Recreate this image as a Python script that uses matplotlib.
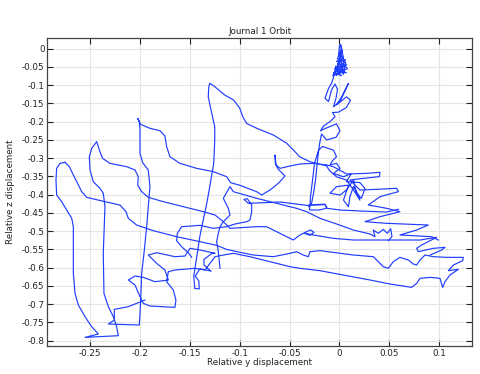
import matplotlib
matplotlib.use("Agg")
import matplotlib.pyplot as plt

# ---- orbit data (relative y, relative z) ----
# dense scribble at the start (top cluster)
start_y = [0.000, -0.001, 0.003, 0.001, 0.004, -0.003, 0.006, 0.002, -0.005, 0.007, 0.001, -0.002, 0.005, -0.006,
           0.003, 0.008, -0.001, -0.004, 0.004, 0.006, -0.002, 0.002, 0.001, -0.005, 0.007, 0.000, -0.003, 0.003,
           -0.001, 0.005, -0.006, 0.002, -0.004, 0.001, 0.004, -0.002, -0.007, -0.005]
start_z = [0.008, -0.020, -0.010, 0.012, -0.025, -0.035, -0.030, -0.050, -0.055, -0.045, -0.015, -0.045, -0.060,
           -0.070, -0.040, -0.055, -0.065, -0.048, -0.070, -0.038, -0.028, 0.002, -0.035, -0.062, -0.066, -0.058,
           -0.073, -0.052, -0.040, -0.048, -0.066, -0.074, -0.058, -0.028, -0.062, -0.070, -0.074, -0.070]

# stem + middle cluster
core_y = [-0.005, -0.008, -0.011, -0.0145, -0.011, -0.008, -0.0045, -0.002, -0.0035, -0.006, 0.0005, 0.009, 0.002,
          -0.003, 0.007, 0.011, 0.007, -0.001, -0.007, -0.0045, -0.0095, -0.016, -0.019, -0.0145, -0.003, 0.0005,
          -0.0035, -0.013, -0.018, -0.020, -0.022, -0.024, -0.026, -0.028, -0.031, -0.0295, -0.0145, -0.013, -0.020,
          -0.030, -0.029, -0.027, -0.025, -0.021, -0.017, -0.006, -0.003, -0.007, -0.0095,
          -0.003, 0.0005, -0.006, 0.004, 0.012, 0.007, 0.0205, 0.0255, 0.022, 0.017, 0.014, 0.007, 0.0005, -0.0095,
          -0.003, 0.009, 0.004, 0.009, 0.0105, 0.014, 0.019, 0.0205, 0.014, 0.007, -0.003, -0.010, -0.013]
core_z = [-0.070, -0.095, -0.109, -0.136, -0.145, -0.113, -0.097, -0.111, -0.136, -0.159, -0.145, -0.095, -0.133,
          -0.154, -0.132, -0.141, -0.161, -0.174, -0.175, -0.186, -0.200, -0.212, -0.225, -0.219, -0.206, -0.225,
          -0.243, -0.250, -0.234, -0.261, -0.305, -0.360, -0.396, -0.424, -0.433, -0.428, -0.426, -0.437, -0.442,
          -0.442, -0.405, -0.360, -0.314, -0.278, -0.268, -0.278, -0.296, -0.307, -0.319,
          -0.314, -0.328, -0.342, -0.351, -0.342, -0.364, -0.367, -0.383, -0.410, -0.396, -0.360, -0.387, -0.401,
          -0.396, -0.378, -0.374, -0.415, -0.433, -0.405, -0.378, -0.401, -0.415, -0.387, -0.360, -0.351, -0.334,
          -0.321]

# sweep to the peak near y=-0.13 and down
sweep1_y = [-0.013, -0.016, -0.0295, -0.040, -0.046, -0.053, -0.066, -0.083, -0.093, -0.097, -0.100, -0.106, -0.115,
            -0.121, -0.126, -0.130, -0.131, -0.1315, -0.128, -0.125, -0.125, -0.126, -0.130, -0.133, -0.1365, -0.140,
            -0.1425, -0.1445, -0.146, -0.145, -0.1405, -0.141, -0.1445, -0.140, -0.129]
sweep1_z = [-0.321, -0.319, -0.310, -0.296, -0.278, -0.259, -0.237, -0.218, -0.205, -0.186, -0.163, -0.141, -0.127,
            -0.113, -0.102, -0.095, -0.106, -0.132, -0.177, -0.214, -0.250, -0.314, -0.378, -0.424, -0.469, -0.515,
            -0.561, -0.597, -0.623, -0.657, -0.658, -0.636, -0.623, -0.603, -0.609]

# lower lattice, bottom-right excursion and return to the leftmost peak
sweep2_y = [-0.129, -0.1358, -0.1358, -0.1277, -0.1247, -0.1398, -0.1498, -0.1548, -0.1649, -0.1832, -0.1916, -0.1832,
            -0.1749, -0.1715, -0.1765, -0.1849, -0.1966, -0.2049, -0.2116, -0.2049, -0.1999, -0.1966, -0.1899, -0.1649,
            -0.1639, -0.1665, -0.1732, -0.1715, -0.1649, -0.1448, -0.1348, -0.1247, -0.1164, -0.1064, -0.0897, -0.0696,
            -0.0496, -0.0396, -0.0195, 0.0038, 0.0306, 0.0506, 0.0723, 0.0773, 0.0807, 0.0907, 0.1007, 0.1034, 0.1057,
            0.1107, 0.1191, 0.1091, 0.1141, 0.1234, 0.1241, 0.1074, 0.0940, 0.0857, 0.0807, 0.0773, 0.0740, 0.0690,
            0.0606, 0.0539, 0.0489, 0.0439, 0.0339, 0.0139, -0.0195, -0.0296, -0.0312, -0.0363, -0.0429, -0.0496,
            -0.0663, -0.0864, -0.0997, -0.1131, -0.1231, -0.1398, -0.1632, -0.1866, -0.2033, -0.2116, -0.2139, -0.2200,
            -0.2350, -0.2533, -0.2583, -0.2633, -0.2667, -0.2707, -0.2751]
sweep2_z = [-0.609, -0.5927, -0.5772, -0.5607, -0.5607, -0.5516, -0.5470, -0.5680, -0.5699, -0.5589, -0.5653, -0.5881,
            -0.6064, -0.6338, -0.6356, -0.6384, -0.6265, -0.6228, -0.6338, -0.6475, -0.6795, -0.6977, -0.7050, -0.7087,
            -0.6886, -0.6612, -0.6384, -0.6110, -0.6064, -0.6018, -0.6064, -0.5699, -0.5653, -0.5607, -0.5699, -0.5836,
            -0.5973, -0.6018, -0.6082, -0.6201, -0.6338, -0.6447, -0.6539, -0.6429, -0.6292, -0.6265, -0.6292, -0.6539,
            -0.6384, -0.6201, -0.6046, -0.6082, -0.5927, -0.5808, -0.5717, -0.5717, -0.5699, -0.5653, -0.5790, -0.5927,
            -0.5900, -0.5790, -0.5717, -0.5836, -0.6018, -0.5973, -0.5699, -0.5653, -0.5534, -0.5562, -0.5699, -0.5653,
            -0.5562, -0.5607, -0.5699, -0.5653, -0.5580, -0.5498, -0.5388, -0.5288, -0.5151, -0.4986, -0.4831, -0.4648,
            -0.4466, -0.4283, -0.4192, -0.4073, -0.3918, -0.3644, -0.3461, -0.3233, -0.3114]

# leftmost peak down, bottom, and up to the third peak, then right
sweep3_y = [-0.2751, -0.2800, -0.2834, -0.2841, -0.2834, -0.2784, -0.2734, -0.2683, -0.2667, -0.2667, -0.2650, -0.2617,
            -0.2550, -0.2483, -0.2417, -0.2550, -0.2216, -0.2233, -0.2266, -0.2316, -0.2360, -0.2367, -0.2350, -0.2367,
            -0.2400, -0.2467, -0.2500, -0.2507, -0.2483, -0.2433, -0.2400, -0.2374, -0.2300, -0.2133, -0.2049, -0.2016,
            -0.2022, -0.1982, -0.1916, -0.1765, -0.1565, -0.1364, -0.1247, -0.1164, -0.1097, -0.0830, -0.0730, -0.0630,
            -0.0529, -0.0463, -0.0396, -0.0329, -0.0289, -0.0256, -0.0296, -0.0346, -0.0262, -0.0062, 0.0139, 0.0489,
            0.0807, 0.0974, 0.0823, 0.0773, 0.0790, 0.0940, 0.1057, 0.1024, 0.0907]
sweep3_z = [-0.3114, -0.3142, -0.3279, -0.3598, -0.4009, -0.4192, -0.4420, -0.4648, -0.4877, -0.6155, -0.6703, -0.7023,
            -0.7342, -0.7616, -0.7817, -0.7909, -0.7863, -0.7616, -0.7342, -0.7068, -0.6703, -0.5607, -0.4329, -0.3963,
            -0.3826, -0.3644, -0.3324, -0.2959, -0.2731, -0.2548, -0.2822, -0.3005, -0.3142, -0.3233, -0.3324, -0.3507,
            -0.3735, -0.3918, -0.4073, -0.4192, -0.4329, -0.4466, -0.4557, -0.4740, -0.4922, -0.4877, -0.4877, -0.5014,
            -0.5151, -0.5242, -0.5105, -0.5014, -0.4968, -0.5032, -0.5114, -0.5059, -0.5105, -0.5196, -0.5242, -0.5242,
            -0.5242, -0.5169, -0.5379, -0.5470, -0.5562, -0.5470, -0.5443, -0.5516, -0.5653]

# right zigzag back to the middle cluster
sweep4_y = [0.0990, 0.0923, 0.0606, 0.0773, 0.0890, 0.0473, 0.0256, 0.0406, 0.0606, 0.0473, 0.0289, 0.0406, 0.0590,
            0.0573, 0.0372, 0.0205, 0.0105, 0.0239, 0.0399, 0.0406, 0.0272, 0.0072, -0.0062, -0.0129]
sweep4_z = [-0.5242, -0.5151, -0.5105, -0.4968, -0.4831, -0.4785, -0.4740, -0.4603, -0.4466, -0.4374, -0.4283, -0.4055,
            -0.3918, -0.3826, -0.3854, -0.3872, -0.3598, -0.3553, -0.3507, -0.3388, -0.3416, -0.3434, -0.3233, -0.3187]

# hook, second peak and its descent
sweep5_y = [-0.0129, -0.0262, -0.0396, -0.0496, -0.0596, -0.0636, -0.0646, -0.0643, -0.0613, -0.0546, -0.0613, -0.0696,
            -0.0780, -0.0830, -0.0997, -0.1091, -0.1131, -0.1264, -0.1431, -0.1599, -0.1699, -0.1732, -0.1749, -0.1799,
            -0.1899, -0.1992, -0.2022, -0.2006, -0.1999, -0.1999, -0.1972, -0.1916, -0.1899, -0.1916, -0.1932, -0.1959,
            -0.1982, -0.1992, -0.1999, -0.2006, -0.2316, -0.2256, -0.2256, -0.2116, -0.1949]
sweep5_z = [-0.3187, -0.3142, -0.3160, -0.3215, -0.3279, -0.3187, -0.2913, -0.3142, -0.3306, -0.3489, -0.3689, -0.3872,
            -0.4009, -0.3918, -0.3744, -0.3671, -0.3507, -0.3370, -0.3279, -0.3142, -0.2959, -0.2685, -0.2393, -0.2247,
            -0.2183, -0.2073, -0.1909, -0.2000, -0.2228, -0.2868, -0.3123, -0.3324, -0.3781, -0.4329, -0.4877, -0.5607,
            -0.6155, -0.6886, -0.7251, -0.7571, -0.7543, -0.7434, -0.7142, -0.7068, -0.6886]

# middle crossings
mid1_y = [-0.1481, -0.1515, -0.1582, -0.1632, -0.1625, -0.1582, -0.1398, -0.1264, -0.1131, -0.1047, -0.0930, -0.0897,
          -0.0880, -0.0880, -0.0924, -0.0957, -0.0914, -0.0596, -0.0329, -0.0145, -0.0122, 0.0005, 0.0205, 0.0473, 0.0590]
mid1_z = [-0.5717, -0.5589, -0.5425, -0.5260, -0.5059, -0.4877, -0.4840, -0.4922, -0.4877, -0.4804, -0.4740, -0.4694,
          -0.4466, -0.4283, -0.4110, -0.4128, -0.4237, -0.4201, -0.4292, -0.4274, -0.4374, -0.4420, -0.4447, -0.4475, -0.4402]

mid2_y = [-0.1197, -0.1214, -0.1231, -0.1214, -0.1197, -0.1164, -0.1097, -0.1114, -0.1164, -0.1097, -0.1064, -0.0830,
          -0.0696, -0.0563, -0.0429, -0.0329, -0.0195, -0.0028, 0.0139, 0.0306, 0.0356, 0.0339, 0.0389, 0.0439, 0.0479,
          0.0513, 0.0526, 0.0489]
mid2_z = [-0.6018, -0.5562, -0.5288, -0.5059, -0.4877, -0.4740, -0.4557, -0.4374, -0.4100, -0.3781, -0.3918, -0.4100,
          -0.4192, -0.4283, -0.4374, -0.4466, -0.4648, -0.4804, -0.4968, -0.5078, -0.5151, -0.4968, -0.5059, -0.4950,
          -0.5059, -0.4932, -0.5151, -0.5260]

x_ticks = [-0.25, -0.2, -0.15, -0.1, -0.05, 0, 0.05, 0.1]
x_tick_labels = ["-0.25", "-0.2", "-0.15", "-0.1", "-0.05", "0", "0.05", "0.1"]
y_ticks = [0, -0.05, -0.1, -0.15, -0.2, -0.25, -0.3, -0.35, -0.4, -0.45, -0.5, -0.55, -0.6, -0.65, -0.7, -0.75, -0.8]
y_tick_labels = ["0", "-0.05", "-0.1", "-0.15", "-0.2", "-0.25", "-0.3", "-0.35", "-0.4", "-0.45", "-0.5", "-0.55",
                 "-0.6", "-0.65", "-0.7", "-0.75", "-0.8"]

plt.rcParams['font.family'] = ['DejaVu Sans']
fig = plt.figure(figsize=(4.8, 3.74), dpi=100)
ax = fig.add_axes([0.0985, 0.0749, 0.8855, 0.8243])

line_color = '#1f3dff'
segments = [(start_y, start_z), (core_y, core_z), (sweep1_y, sweep1_z), (sweep2_y, sweep2_z),
            (sweep3_y, sweep3_z), (sweep4_y, sweep4_z), (sweep5_y, sweep5_z), (mid1_y, mid1_z), (mid2_y, mid2_z)]
for sy, sz in segments:
    ax.plot(sy, sz, color=line_color, lw=0.85, solid_joinstyle='round')

ax.set_xlim(-0.2928, 0.1331)
ax.set_ylim(-0.8145, 0.030)
ax.set_xticks(x_ticks)
ax.set_xticklabels(x_tick_labels)
ax.set_yticks(y_ticks)
ax.set_yticklabels(y_tick_labels)
ax.grid(True, color='#e4e4e4', lw=0.8)
ax.set_axisbelow(True)
ax.tick_params(direction='in', length=4, width=0.8, top=True, right=True, labelsize=6.3, pad=2, colors='#222222')
for s in ax.spines.values():
    s.set_color('#444444')
    s.set_linewidth(0.9)

ax.set_title("Journal 1 Orbit", fontsize=6.3, pad=3, color='#222222')
ax.set_xlabel("Relative y displacement", fontsize=6.3, labelpad=0, color='#222222')
ax.set_ylabel("Relative z displacement", fontsize=6.3, labelpad=5, color='#222222')

fig.savefig("out.png", dpi=100)
